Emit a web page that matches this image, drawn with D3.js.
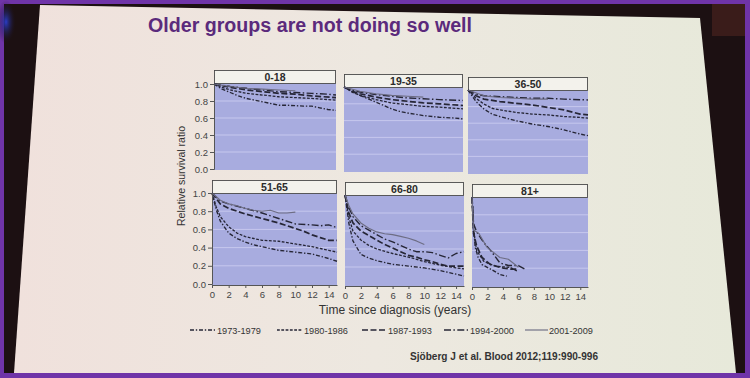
<!DOCTYPE html>
<html><head><meta charset="utf-8">
<script src="https://cdn.jsdelivr.net/npm/d3@7"></script>
<style>html,body{margin:0;padding:0;background:#6f34a8;overflow:hidden}</style>
</head><body><svg id="c" width="750" height="378"></svg>
<script>
// ---------- data ----------
const panelLabels = ["0-18","19-35","36-50","51-65","66-80","81+"];
const seriesNames = ["1973-1979","1980-1986","1987-1993","1994-2000","2001-2009"];
const xTicks = [0,2,4,6,8,10,12,14];
const yTicks = [0.0,0.2,0.4,0.6,0.8,1.0];
const title = "Older groups are not doing so well";
const yTitle = "Relative survival ratio";
const xTitle = "Time since diagnosis (years)";
const citation = "Sjöberg J et al. Blood 2012;119:990-996";

// each panel: five series (1973-1979 ... 2001-2009) of [years, ratio]
const age0_18 = [
  [[0,1],[1,0.94],[2,0.90],[3,0.86],[4,0.83],[5,0.81],[6,0.79],[7,0.77],[8,0.75],[9,0.75],[10,0.745],[11,0.74],[12,0.74],[13,0.72],[14,0.70],[15,0.69]],
  [[0,1],[1,0.96],[2,0.93],[4,0.89],[6,0.87],[8,0.85],[10,0.84],[12,0.83],[15,0.81]],
  [[0,1],[1,0.98],[2,0.96],[4,0.93],[6,0.91],[8,0.89],[10,0.88],[12,0.86],[15,0.84]],
  [[0,1],[2,0.97],[4,0.95],[6,0.93],[8,0.91],[10,0.90],[12,0.89],[14,0.88],[15,0.87]],
  [[0,1],[2,0.97],[4,0.95],[6,0.94],[8,0.93],[10,0.92]]
];
const age19_35 = [
  [[0,1],[1,0.95],[2,0.90],[3,0.86],[4,0.82],[5,0.78],[6,0.74],[7,0.71],[8,0.69],[10,0.66],[12,0.64],[14,0.63],[15,0.62]],
  [[0,1],[1,0.94],[2,0.90],[4,0.85],[6,0.81],[8,0.79],[10,0.77],[12,0.76],[15,0.74]],
  [[0,1],[1,0.95],[2,0.92],[4,0.88],[6,0.85],[8,0.83],[10,0.81],[12,0.80],[15,0.78]],
  [[0,1],[1,0.96],[2,0.94],[4,0.91],[6,0.89],[8,0.87],[10,0.86],[12,0.85],[15,0.84]],
  [[0,1],[2,0.95],[4,0.92],[6,0.90],[8,0.89],[10,0.88]]
];
const age36_50 = [
  [[0,1],[1,0.86],[2,0.77],[3,0.71],[4,0.68],[6,0.63],[8,0.59],[10,0.56],[12,0.52],[14,0.47],[15,0.45]],
  [[0,1],[1,0.90],[2,0.83],[3,0.78],[4,0.76],[6,0.73],[8,0.71],[10,0.70],[12,0.68],[14,0.67],[15,0.66]],
  [[0,1],[1,0.93],[2,0.89],[4,0.86],[6,0.84],[8,0.82],[10,0.79],[12,0.76],[14,0.71],[15,0.70]],
  [[0,1],[1,0.95],[2,0.93],[4,0.92],[6,0.91],[8,0.90],[10,0.90],[12,0.89],[15,0.88]],
  [[0,1],[2,0.93],[4,0.91],[6,0.90],[8,0.89],[10,0.89]]
];
const age51_65 = [
  [[0,1],[0.5,0.82],[1,0.69],[2,0.56],[3,0.50],[4,0.46],[5,0.43],[6,0.41],[8,0.37],[10,0.35],[12,0.33],[14,0.28],[15,0.25]],
  [[0,1],[0.5,0.85],[1,0.74],[2,0.63],[3,0.56],[4,0.52],[5,0.50],[6,0.48],[8,0.47],[10,0.44],[12,0.41],[14,0.37],[15,0.35]],
  [[0,1],[1,0.88],[2,0.83],[4,0.77],[6,0.72],[8,0.67],[10,0.61],[11,0.58],[12,0.54],[13,0.51],[14,0.48],[15,0.48]],
  [[0,1],[1,0.91],[2,0.88],[4,0.83],[6,0.78],[8,0.72],[10,0.66],[12,0.65],[13,0.64],[14,0.65],[15,0.62]],
  [[0,1],[1,0.92],[2,0.88],[3,0.86],[4,0.83],[5,0.81],[6,0.80],[7,0.81],[8,0.78],[9,0.78],[10,0.79]]
];
const age66_80 = [
  [[0,1],[0.5,0.68],[1,0.49],[2,0.34],[3,0.30],[4,0.27],[6,0.23],[8,0.21],[10,0.19],[12,0.16],[14,0.12],[15,0.10]],
  [[0,1],[0.5,0.75],[1,0.60],[2,0.50],[3,0.44],[4,0.40],[6,0.35],[8,0.31],[10,0.26],[12,0.22],[14,0.19],[15,0.18]],
  [[0,1],[0.5,0.80],[1,0.69],[2,0.60],[3,0.55],[4,0.50],[5,0.45],[6,0.41],[7,0.37],[8,0.33],[9,0.31],[10,0.28],[11,0.26],[12,0.23],[13,0.21],[14,0.21],[15,0.21]],
  [[0,1],[0.5,0.86],[1,0.76],[2,0.66],[3,0.61],[4,0.56],[5,0.51],[6,0.48],[7,0.44],[8,0.40],[9,0.37],[10,0.37],[11,0.36],[12,0.33],[13,0.30],[14,0.35],[15,0.37]],
  [[0,1],[0.5,0.88],[1,0.79],[2,0.69],[3,0.63],[4,0.59],[5,0.57],[6,0.56],[7,0.54],[8,0.52],[9,0.49],[10,0.45]]
];
const age81 = [
  [[0,1],[0.2,0.70],[0.4,0.44],[0.8,0.32],[1.3,0.24],[2.4,0.19],[3.6,0.13],[4.5,0.11]],
  [[0,1],[0.2,0.63],[0.6,0.40],[1.5,0.28],[2.2,0.25],[3.2,0.22],[4.9,0.21],[5.8,0.17]],
  [[0,1],[0.2,0.59],[0.6,0.45],[1.3,0.32],[2.4,0.24],[4.1,0.20],[5.0,0.19],[5.8,0.19]],
  [[0,1],[0.2,0.70],[0.6,0.61],[1.5,0.49],[2.4,0.40],[3.6,0.26],[4.7,0.23],[6.0,0.23],[6.8,0.19]],
  [[0,1],[0.2,0.63],[0.9,0.59],[1.9,0.44],[3.6,0.32],[4.7,0.30],[6.0,0.21]]
];
const panelData = [age0_18, age19_35, age36_50, age51_65, age66_80, age81];

// ---------- layout / style ----------
const layout = [
  {l:214,r:336,ht:70,y1:84,y0:169},
  {l:344,r:463,ht:74,y1:87,y0:171},
  {l:468,r:588,ht:77,y1:90,y0:173},
  {l:212,r:337,ht:180,y1:193,y0:284},
  {l:345,r:464,ht:182,y1:195,y0:285},
  {l:472,r:588,ht:184,y1:197,y0:286}
];
const dashes = ["4,1.8,1.4,1.8","2.8,1.5","6,2.5","7,2.4,1.5,2.4",null];
const widths = [1.35,1.3,1.7,1.4,1.15];
const colors = ["#262636","#262636","#262636","#262636","#6d6d84"];
const font = "Liberation Sans, Arial, sans-serif";

const svg = d3.select("#c");
const defs = svg.append("defs");
const bg = defs.append("linearGradient").attr("id","slide").attr("x1","0").attr("x2","1").attr("y1","0").attr("y2","0");
bg.append("stop").attr("offset","0").attr("stop-color","#f0e1dc");
bg.append("stop").attr("offset","0.5").attr("stop-color","#ede8e0");
bg.append("stop").attr("offset","1").attr("stop-color","#e7e9da");
const glow = defs.append("radialGradient").attr("id","glow");
glow.append("stop").attr("offset","0").attr("stop-color","#2a3cc8");
glow.append("stop").attr("offset","1").attr("stop-color","#1c1012").attr("stop-opacity","0");

// frame and dark surroundings
svg.append("rect").attr("x",0).attr("y",0).attr("width",750).attr("height",378).attr("fill","#6f34a8");
svg.append("rect").attr("x",4).attr("y",4).attr("width",741).attr("height",369).attr("fill","#1c1012");
svg.append("rect").attr("x",712).attr("y",4).attr("width",33).attr("height",32).attr("fill","#3a1c1a");
svg.append("ellipse").attr("cx",6).attr("cy",22).attr("rx",10).attr("ry",22).attr("fill","url(#glow)");
svg.append("polygon").attr("points","40,5 700,18 736,373 14,373").attr("fill","url(#slide)");

// title
svg.append("text").attr("x",148).attr("y",32).attr("font-family",font).attr("font-weight","bold")
  .attr("font-size",19.5).attr("fill","#5b2a7c").attr("textLength",324).attr("lengthAdjust","spacingAndGlyphs").text(title);

const line = d3.line();

panelData.forEach((series, i) => {
  const L = layout[i];
  const x = d3.scaleLinear().domain([0,15]).range([L.l, L.r]);
  const y = d3.scaleLinear().domain([0,1]).range([L.y0, L.y1]);
  const g = svg.append("g");
  // plot background
  g.append("rect").attr("x",L.l).attr("y",L.ht+13).attr("width",L.r-L.l).attr("height",L.y0+1-(L.ht+13)).attr("fill","#a8acdf");
  // grid
  g.selectAll("line.grid").data(yTicks.filter(v=>v>0 && v<1)).enter().append("line")
    .attr("x1",L.l).attr("x2",L.r).attr("y1",d=>y(d)).attr("y2",d=>y(d))
    .attr("stroke","#c6c8ee").attr("stroke-width",1);
  // header strip
  g.append("rect").attr("x",L.l+0.5).attr("y",L.ht+0.5).attr("width",L.r-L.l-1).attr("height",13)
    .attr("fill","#f3f2ec").attr("stroke","#4a4a4a").attr("stroke-width",0.9);
  g.append("text").attr("x",(L.l+L.r)/2).attr("y",L.ht+10.5).attr("text-anchor","middle")
    .attr("font-family",font).attr("font-weight","bold").attr("font-size",10.5).attr("fill","#2a2a2a").text(panelLabels[i]);
  // curves
  series.forEach((pts, s) => {
    g.append("path").attr("d", line(pts.map(p => [x(p[0]), y(p[1])])))
      .attr("fill","none").attr("stroke",colors[s]).attr("stroke-width",widths[s])
      .attr("stroke-dasharray",dashes[s]).attr("stroke-linejoin","round");
  });
  // axes
  if (i % 3 === 0) {
    const ya = g.append("g").attr("transform",`translate(${L.l},0)`)
      .call(d3.axisLeft(y).tickValues(yTicks).tickFormat(d3.format(".1f")).tickSize(4).tickPadding(2));
    ya.select(".domain").attr("stroke","#555");
    ya.selectAll(".tick line").attr("stroke","#555");
    ya.selectAll("text").attr("font-family",font).attr("font-size",9.5).attr("fill","#444");
  }
  if (i >= 3) {
    const xa = g.append("g").attr("transform",`translate(0,${L.y0+1})`)
      .call(d3.axisBottom(x).tickValues(xTicks).tickFormat(d3.format("d")).tickSize(3).tickPadding(3).tickSizeOuter(0));
    xa.select(".domain").attr("stroke","#555");
    xa.selectAll(".tick line").attr("stroke","#555");
    xa.selectAll("text").attr("font-family",font).attr("font-size",9.5).attr("fill","#444");
  }
});

// axis titles
svg.append("text").attr("transform","translate(185,176) rotate(-90)").attr("text-anchor","middle")
  .attr("font-family",font).attr("font-size",10.5).attr("fill","#333").attr("textLength",100).attr("lengthAdjust","spacingAndGlyphs").text(yTitle);
svg.append("text").attr("x",395).attr("y",314).attr("text-anchor","middle")
  .attr("font-family",font).attr("font-size",12).attr("fill","#333").text(xTitle);

// legend
const legX = [[190,215,217],[277,302,304],[362,386,388],[444,468,470],[525,548,549]];
seriesNames.forEach((name, s) => {
  const p = legX[s];
  svg.append("line").attr("x1",p[0]).attr("x2",p[1]).attr("y1",330).attr("y2",330)
    .attr("stroke",colors[s]).attr("stroke-width",widths[s]).attr("stroke-dasharray",dashes[s]);
  svg.append("text").attr("x",p[2]).attr("y",333.5).attr("font-family",font).attr("font-size",9.2)
    .attr("fill","#333").text(name);
});

// citation
svg.append("text").attr("x",410).attr("y",360).attr("font-family",font).attr("font-weight","bold")
  .attr("font-size",10).attr("fill","#333").attr("textLength",188).attr("lengthAdjust","spacingAndGlyphs").text(citation);
</script></body></html>
